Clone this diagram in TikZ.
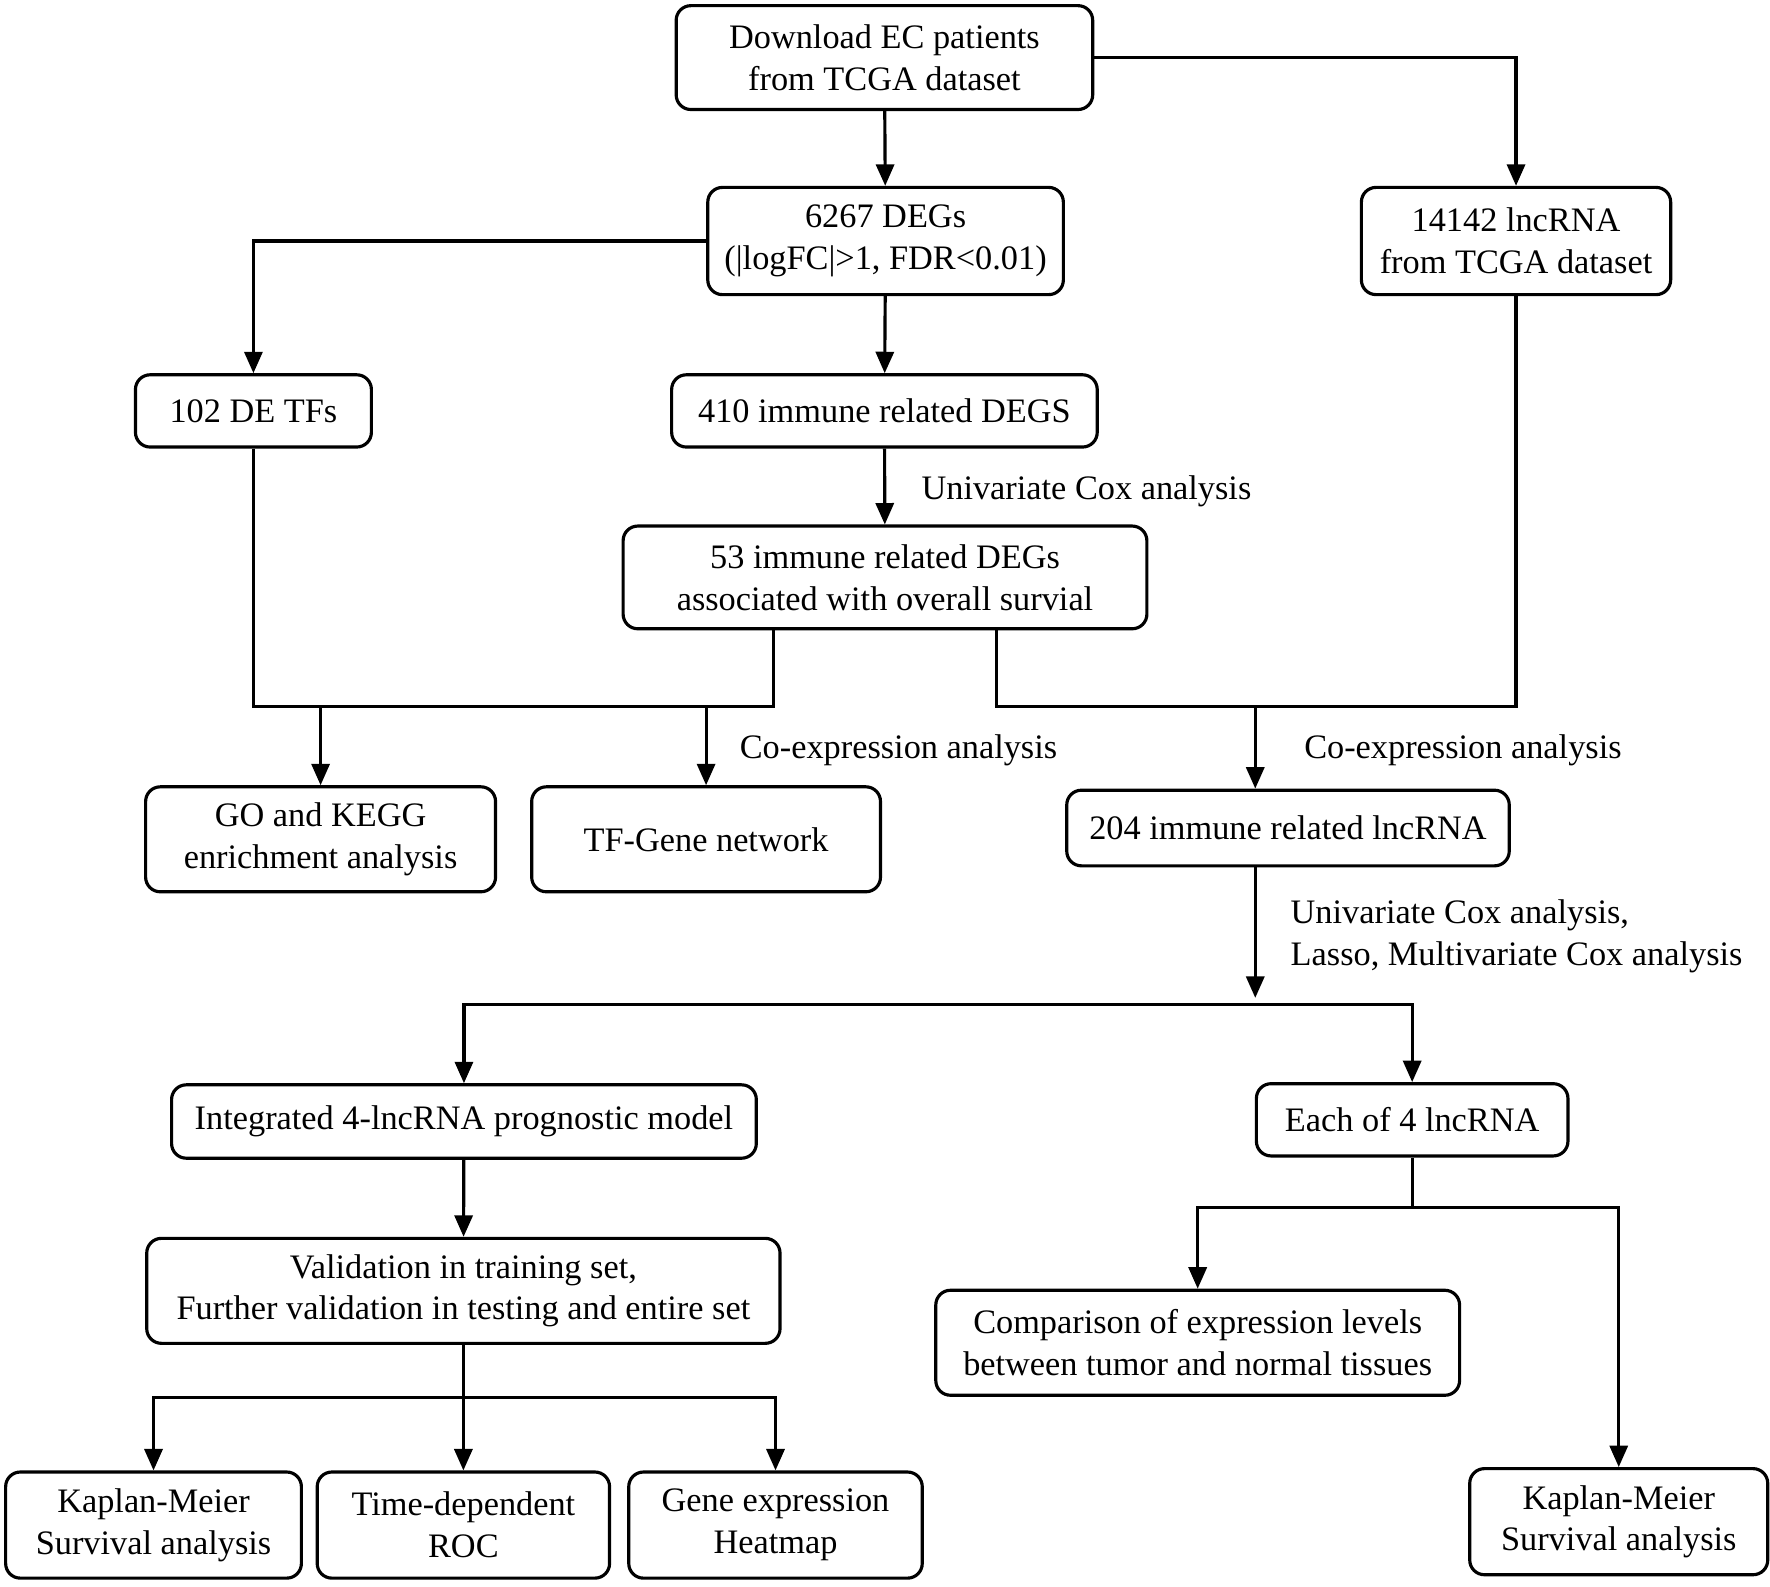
\documentclass[tikz,border=0pt]{standalone}
\usepackage{fontspec}
\setmainfont{Liberation Serif}
\usetikzlibrary{arrows.meta}
\begin{document}
\begin{tikzpicture}[x=0.5pt,y=-0.5pt,
  box/.style={draw, line width=1.4pt, rounded corners=6.5pt, align=center, inner sep=0pt,
    font=\fontsize{15.2pt}{18.5pt}\selectfont},
  lbl/.style={anchor=west, inner sep=0pt, align=left, font=\fontsize{15.2pt}{18.5pt}\selectfont},
  conn/.style={line width=1.4pt},
  arr/.style={conn, -{Triangle[width=8pt,length=9.5pt]}},
  barr/.style={conn, {Triangle[width=8pt,length=9.5pt]}-{Triangle[width=8pt,length=9.5pt]}}
]
\useasboundingbox[fill=white] (0,0) rectangle (1568,1405);

\node[box, minimum width=184.5pt, minimum height=46pt] (dl) at (783.5,51) {Download EC patients\\from TCGA dataset};
\node[box, minimum width=157.5pt, minimum height=47.5pt] (degs) at (784.5,213.5) {6267 DEGs\\(|logFC|>1, FDR<0.01)};
\node[box, minimum width=137pt, minimum height=47.5pt] (lnc) at (1343,213.5) {14142 lncRNA\\from TCGA dataset};
\node[box, minimum width=104.5pt, minimum height=32pt] (tfs) at (224.5,364) {102 DE TFs};
\node[box, minimum width=188.5pt, minimum height=32pt] (imm410) at (783.5,364) {410 immune related DEGS};
\node[box, minimum width=232pt, minimum height=45.5pt] (imm53) at (784,511.5) {53 immune related DEGs\\associated with overall survial};
\node[box, minimum width=155pt, minimum height=46.5pt] (go) at (284,743.5) {GO and KEGG\\enrichment analysis};
\node[box, minimum width=154.5pt, minimum height=46.5pt] (tfg) at (625.5,743.5) {TF-Gene network};
\node[box, minimum width=196pt, minimum height=33.5pt] (l204) at (1141,733.5) {204 immune related lncRNA};
\node[box, minimum width=259pt, minimum height=32.5pt] (integ) at (411,993.5) {Integrated 4-lncRNA prognostic model};
\node[box, minimum width=138pt, minimum height=32pt] (each) at (1251,992) {Each of 4 lncRNA};
\node[box, minimum width=280.5pt, minimum height=46.5pt] (valid) at (410.5,1143.5) {Validation in training set,\\Further validation in testing and entire set};
\node[box, minimum width=232pt, minimum height=46.5pt] (comp) at (1061,1189.5) {Comparison of expression levels\\between tumor and normal tissues};
\node[box, minimum width=131pt, minimum height=47pt] (km1) at (136,1351) {Kaplan-Meier\\Survival analysis};
\node[box, minimum width=129.5pt, minimum height=47pt] (roc) at (410.5,1351) {Time-dependent\\ROC};
\node[box, minimum width=130pt, minimum height=47pt] (heat) at (687,1351) {Gene expression\\Heatmap};
\node[box, minimum width=132pt, minimum height=47pt] (km2) at (1434,1348) {Kaplan-Meier\\Survival analysis};

\node[lbl] (l1) at (816,435) {Univariate Cox analysis};
\node[lbl] (l2) at (655,665) {Co-expression analysis};
\node[lbl] (l3) at (1155,665) {Co-expression analysis};
\node[lbl] (l4) at (1143,829.5) {Univariate Cox analysis,\\Lasso, Multivariate Cox analysis};

\coordinate (j1) at (685,626);
\coordinate (j2) at (883,626);
\coordinate (j3) at (1112,626);
\coordinate (j4) at (1112,890);
\coordinate (j4t) at (1112,884);
\coordinate (j7) at (1251,1070);
\coordinate (j8) at (410.5,1238);

% top
\draw[arr] (dl) -- (degs);
\draw[arr] (dl.east) -| (lnc.north);
\draw[arr] (degs.west) -| (tfs.north);
\draw[arr] (degs) -- (imm410);
\draw[arr] (imm410) -- (imm53);

% middle junctions
\draw[conn] (tfs.south) |- (j1) -- (j1 |- imm53.south);
\draw[arr] (go.north |- j1) -- (go.north);
\draw[arr] (tfg.north |- j1) -- (tfg.north);
\draw[conn] (j2 |- imm53.south) -- (j2) -- (lnc.south |- j2) -- (lnc.south);
\draw[arr] (j3) -- (j3 |- l204.north);

% lower
\draw[arr] (j3 |- l204.south) -- (j4t);
\draw[barr] (integ.north) |- (j4) -| (each.north);
\draw[arr] (integ) -- (valid);
\draw[conn] (each.south) -- (j7);
\draw[barr] (comp.north) |- (j7) -| (km2.north);
\draw[barr] (km1.north) |- (j8) -| (heat.north);
\draw[arr] (valid.south) -- (roc.north);
\end{tikzpicture}
\end{document}
